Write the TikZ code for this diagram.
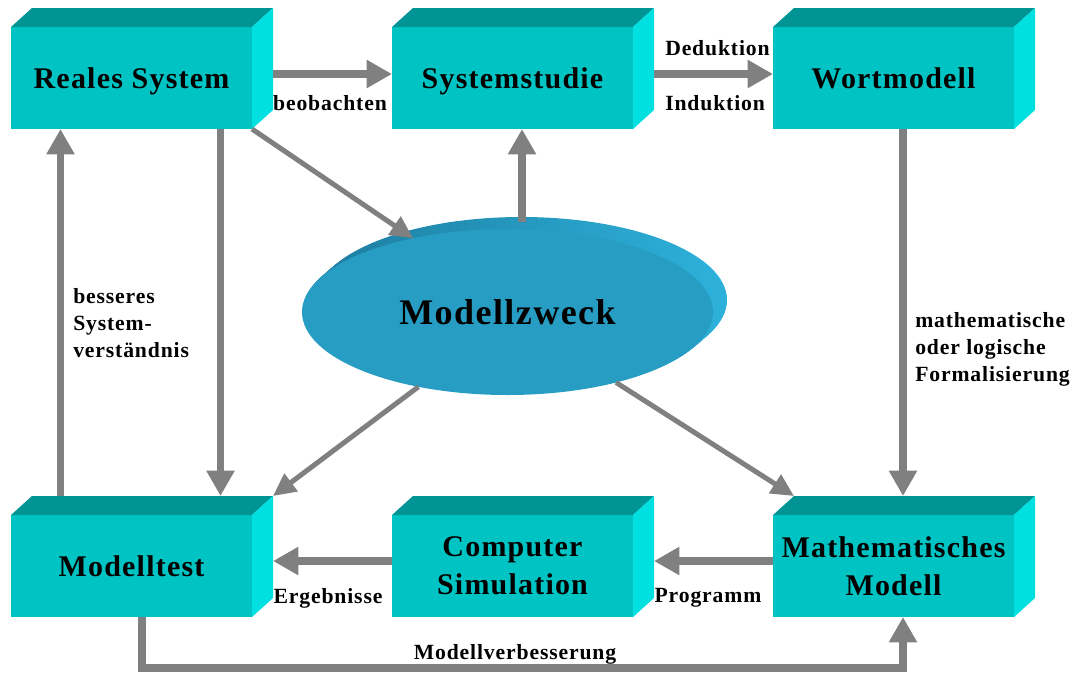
\documentclass[tikz,border=0pt]{standalone}
\usepackage{fontspec}
\setmainfont{Liberation Serif}[LetterSpace=4.0]
\usetikzlibrary{arrows.meta,calc,shapes.geometric}
\definecolor{frontc}{RGB}{0,196,196}
\definecolor{topc}{RGB}{0,148,148}
\definecolor{sidec}{RGB}{0,224,224}
\definecolor{ellc}{RGB}{39,157,196}
\definecolor{banddark}{RGB}{30,125,160}
\definecolor{bandlight}{RGB}{45,178,220}
\definecolor{arrc}{RGB}{128,128,128}
\newcommand\boxfaces[1]{%
  \fill[topc] (#1.north west) -- ++(21,-19) -- ($(#1.north east)+(21,-19)$) -- (#1.north east) -- cycle;
  \fill[sidec] (#1.north east) -- ++(21,-19) -- ++(0,102) -- (#1.south east) -- cycle;}
\begin{document}
\begin{tikzpicture}[x=0.75pt,y=-0.75pt,
  cube/.style={fill=frontc, minimum width=180.75pt, minimum height=76.5pt, inner sep=0pt, outer sep=0pt,
    align=center, font=\bfseries\fontsize{22.5}{28.5}\selectfont},
  lbl/.style={font=\bfseries\fontsize{16.25}{20.25}\selectfont, inner sep=0pt},
  arr/.style={draw=arrc, line width=5.5pt, -{Triangle[length=19pt,width=20pt]}},
  darr/.style={draw=arrc, line width=3.75pt, -{Triangle[length=17pt,width=16pt]}}]
\useasboundingbox (0,0) rectangle (1075,672);
% ellipse
\foreach \i in {1,...,14}{
  \shade[left color=banddark, middle color=banddark, right color=bandlight] ($(507.5,312)+(\i,-\i*12/14)$) ellipse (154.125pt and 62.25pt);
}
\node[ellipse, fill=ellc, minimum width=308.25pt, minimum height=124.5pt, inner sep=0pt, outer sep=0pt,
  font=\bfseries\fontsize{27}{32}\selectfont] (mz) at (507.5,312) {Modellzweck};
% boxes
\node[cube, text depth=0pt] (rs) at (131.5,78) {Reales System};
\node[cube, text depth=0pt] (ss) at (512.5,78) {Systemstudie};
\node[cube, text depth=0pt] (wm) at (893.5,78) {Wortmodell};
\node[cube, text depth=0pt] (mt) at (131.5,566) {Modelltest};
\node[cube] (cs) at (512.5,566) {Computer\\Simulation};
\node[cube] (mm) at (893.5,566) {Mathematisches\\Modell};
\boxfaces{rs}\boxfaces{ss}\boxfaces{wm}\boxfaces{mt}\boxfaces{cs}\boxfaces{mm}
% arrows
\draw[arr] ($(rs.east)+(21,-4)$) -- ($(ss.west)+(0,-4)$);
\draw[arr] ($(ss.east)+(21,-4)$) -- ($(wm.west)+(0,-4)$);
\draw[arr] ($(wm.south)+(9.5,0)$) -- ($(mm.north)+(9.5,-19)$);
\draw[arr] ($(mm.west)+(0,-5)$) -- ($(cs.east)+(21,-5)$);
\draw[arr] ($(cs.west)+(0,-5)$) -- ($(mt.east)+(21,-5)$);
\draw[arr] ($(mt.north west)+(49.5,-19)$) -- ($(rs.south west)+(49.5,0)$);
\draw[arr] ($(rs.south west)+(209.5,0)$) -- ($(mt.north west)+(209.5,-19)$);
\draw[arr] ($(mt.south west)+(131,0)$) -- ++(0,51) -| ($(mm.south)+(9.5,0)$);
\draw[darr] (rs.south east) -- (mz.142.8);
\draw[arr] ($(mz.north)+(14.5,-7)$) -- ($(ss.south)+(9.5,0)$);
\draw[darr] (mz.220.6) -- ($(mt.north east)+(21,-19)$);
\draw[darr] (mz.327) -- ($(mm.north west)+(21,-19)$);
% labels
\node[lbl] (l1) at (330,103) {beobachten};
\node[lbl, anchor=west] (l2) at (665,48) {Deduktion};
\node[lbl, anchor=west] (l3) at (665,103) {Induktion};
\node[lbl, anchor=west, align=left] (l4) at (915,349) {mathematische\\oder logische\\Formalisierung};
\node[lbl, anchor=west, align=left] (l5) at (73,323) {besseres\\System-\\verständnis};
\node[lbl] (l6) at (328,598) {Ergebnisse};
\node[lbl] (l7) at (708,598) {Programm};
\node[lbl] (l8) at (515,654) {Modellverbesserung};
\end{tikzpicture}
\end{document}
